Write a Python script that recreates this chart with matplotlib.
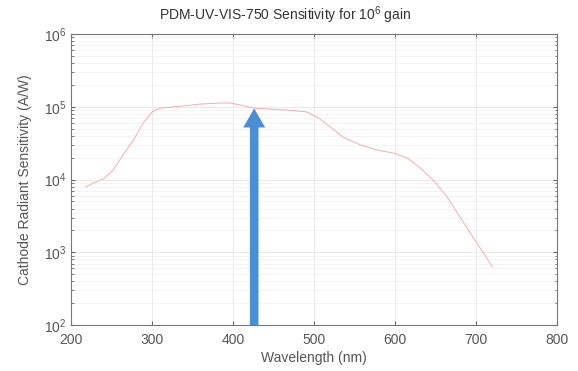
import numpy as np
import matplotlib
matplotlib.use('Agg')
import matplotlib.pyplot as plt
from matplotlib.ticker import LogLocator

plt.rcParams['font.family'] = ['Liberation Sans', 'DejaVu Sans']
plt.rcParams['mathtext.fontset'] = 'custom'
plt.rcParams['mathtext.rm'] = 'Liberation Sans'
plt.rcParams['mathtext.it'] = 'Liberation Sans'

# sensitivity curve
wavelength = [218, 227, 240, 252, 264, 277, 289, 300, 310, 335, 359, 384, 396, 409, 425,
              446, 470, 491, 504, 520, 536, 557, 578, 598, 615, 631, 647, 664, 680,
              696, 709, 720]
sensitivity = [7.9e3, 8.9e3, 1.02e4, 1.35e4, 2.17e4, 3.5e4, 6.0e4, 8.5e4, 9.6e4, 1.02e5,
               1.09e5, 1.13e5, 1.13e5, 1.06e5, 9.6e4, 9.3e4, 9.0e4, 8.5e4, 7.2e4, 5.3e4,
               3.8e4, 3.0e4, 2.54e4, 2.31e4, 1.98e4, 1.44e4, 9.8e3, 5.8e3, 3.06e3,
               1.62e3, 9.8e2, 6.3e2]

xticks = [200, 300, 400, 500, 600, 700, 800]
yticks = [1e2, 1e3, 1e4, 1e5, 1e6]
ytick_labels = [r'$10^{2}$', r'$10^{3}$', r'$10^{4}$', r'$10^{5}$', r'$10^{6}$']

arrow_x = 426
arrow_top = 9.5e4

txt = '#555555'
fig = plt.figure(figsize=(5.78, 3.71), dpi=100)
ax = fig.add_axes([0.123, 0.124, 0.841, 0.784])

ax.plot(wavelength, sensitivity, color='#f4acac', lw=0.7)
ax.set_yscale('log')
ax.set_xlim(200, 800)
ax.set_ylim(1e2, 1e6)

ax.set_xticks(xticks)
ax.set_yticks(yticks)
ax.set_yticklabels(ytick_labels)
ax.yaxis.set_minor_locator(LogLocator(base=10, subs=np.arange(2, 10)))
ax.tick_params(which='both', direction='in', top=True, right=True,
               colors='#666666', labelcolor=txt, labelsize=10)
ax.tick_params(which='major', length=3)
ax.tick_params(which='minor', length=1.8)
ax.tick_params(axis='x', pad=6)
ax.grid(True, which='major', color='#e6e6e6', lw=0.6)
ax.grid(True, which='minor', axis='y', color='#f0f0f0', lw=0.5)
for s in ax.spines.values():
    s.set_color('#777777')
    s.set_linewidth(0.8)

ax.set_xlabel('Wavelength (nm)', color=txt, fontsize=10, labelpad=3)
ax.set_ylabel('Cathode Radiant Sensitivity (A/W)', color=txt, fontsize=10, labelpad=8)
# title sits a bit left of the axes centre in the original
ax.set_title(r'PDM-UV-VIS-750 Sensitivity for 10$^{6}$ gain', color='#333333',
             fontsize=10, pad=10, x=0.44)

ax.annotate('', xy=(arrow_x, arrow_top), xytext=(arrow_x, 1e2),
            arrowprops=dict(arrowstyle='simple,head_width=1.58,tail_width=0.62,head_length=1.37',
                            mutation_scale=10, color='#4a8fd6', lw=0,
                            shrinkA=0, shrinkB=0))

fig.savefig('out.png', dpi=100)
